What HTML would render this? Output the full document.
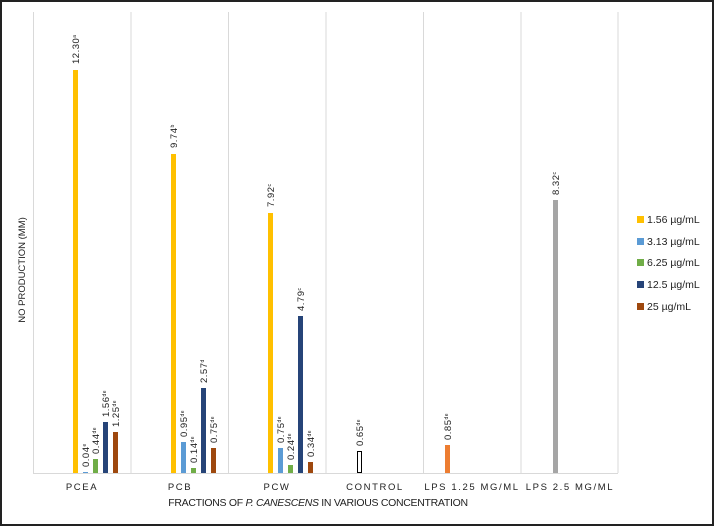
<!DOCTYPE html>
<html><head><meta charset="utf-8"><style>
html,body{margin:0;padding:0;background:#fff}
svg{display:block}
text{font-family:"Liberation Sans",sans-serif;fill:#222}
</style></head><body>
<svg width="715" height="526" viewBox="0 0 715 526" xmlns="http://www.w3.org/2000/svg">
<rect x="1" y="1" width="712" height="524" fill="#fff" stroke="#222" stroke-width="2"/>
<g stroke="#d9d9d9" stroke-width="1">
<line x1="33.5" y1="12" x2="33.5" y2="473"/>
<line x1="131" y1="12" x2="131" y2="473"/>
<line x1="228.5" y1="12" x2="228.5" y2="473"/>
<line x1="326" y1="12" x2="326" y2="473"/>
<line x1="423.5" y1="12" x2="423.5" y2="473"/>
<line x1="521" y1="12" x2="521" y2="473"/>
<line x1="618" y1="12" x2="618" y2="473"/>
<line x1="33" y1="473.5" x2="618" y2="473.5"/>
</g>
<g>
<rect x="73" y="70" width="5" height="403" fill="#ffc000"/>
<rect x="83" y="472" width="5" height="1" fill="#5b9bd5"/>
<rect x="93" y="459" width="5" height="14" fill="#70ad47"/>
<rect x="103" y="422" width="5" height="51" fill="#264478"/>
<rect x="113" y="432" width="5" height="41" fill="#9e480e"/>
<rect x="171" y="154" width="5" height="319" fill="#ffc000"/>
<rect x="181" y="442" width="5" height="31" fill="#5b9bd5"/>
<rect x="191" y="468" width="5" height="5" fill="#70ad47"/>
<rect x="201" y="388" width="5" height="85" fill="#264478"/>
<rect x="211" y="448" width="5" height="25" fill="#9e480e"/>
<rect x="268" y="213" width="5" height="260" fill="#ffc000"/>
<rect x="278" y="448" width="5" height="25" fill="#5b9bd5"/>
<rect x="288" y="465" width="5" height="8" fill="#70ad47"/>
<rect x="298" y="316" width="5" height="157" fill="#264478"/>
<rect x="308" y="462" width="5" height="11" fill="#9e480e"/>
<rect x="357.5" y="451.5" width="4" height="21" fill="#fff" stroke="#000" stroke-width="1"/>
<rect x="445" y="445" width="5" height="28" fill="#ed7d31"/>
<rect x="553" y="200" width="5" height="273" fill="#a5a5a5"/>
</g>
<g font-size="9.5" letter-spacing="0.5">
<text transform="translate(79,64) rotate(-90)">12.30<tspan font-size="5" dy="-3">a</tspan></text>
<text transform="translate(89,467) rotate(-90)">0.04<tspan font-size="5" dy="-3">e</tspan></text>
<text transform="translate(99,454) rotate(-90)">0.44<tspan font-size="5" dy="-3">de</tspan></text>
<text transform="translate(109,417) rotate(-90)">1.56<tspan font-size="5" dy="-3">de</tspan></text>
<text transform="translate(119,427) rotate(-90)">1.25<tspan font-size="5" dy="-3">de</tspan></text>
<text transform="translate(177,148) rotate(-90)">9.74<tspan font-size="5" dy="-3">b</tspan></text>
<text transform="translate(187,437) rotate(-90)">0.95<tspan font-size="5" dy="-3">de</tspan></text>
<text transform="translate(197,463) rotate(-90)">0.14<tspan font-size="5" dy="-3">de</tspan></text>
<text transform="translate(207,383) rotate(-90)">2.57<tspan font-size="5" dy="-3">d</tspan></text>
<text transform="translate(217,443) rotate(-90)">0.75<tspan font-size="5" dy="-3">de</tspan></text>
<text transform="translate(274,207) rotate(-90)">7.92<tspan font-size="5" dy="-3">c</tspan></text>
<text transform="translate(284,443) rotate(-90)">0.75<tspan font-size="5" dy="-3">de</tspan></text>
<text transform="translate(294,460) rotate(-90)">0.24<tspan font-size="5" dy="-3">de</tspan></text>
<text transform="translate(304,311) rotate(-90)">4.79<tspan font-size="5" dy="-3">c</tspan></text>
<text transform="translate(314,457) rotate(-90)">0.34<tspan font-size="5" dy="-3">de</tspan></text>
<text transform="translate(363,446) rotate(-90)">0.65<tspan font-size="5" dy="-3">de</tspan></text>
<text transform="translate(451,440) rotate(-90)">0.85<tspan font-size="5" dy="-3">de</tspan></text>
<text transform="translate(559,195) rotate(-90)">8.32<tspan font-size="5" dy="-3">c</tspan></text>
</g>
<g font-size="9.5" letter-spacing="1.6" text-anchor="middle">
<text x="82" y="490">PCEA</text>
<text x="180" y="490">PCB</text>
<text x="277" y="490">PCW</text>
<text x="375" y="490">CONTROL</text>
<text x="472" y="490">LPS 1.25 MG/ML</text>
<text x="570" y="490">LPS 2.5 MG/ML</text>
</g>
<text x="318" y="506" font-size="10.5" text-anchor="middle" letter-spacing="-0.3">FRACTIONS OF <tspan font-style="italic">P. CANESCENS</tspan> IN VARIOUS CONCENTRATION</text>
<text transform="translate(25,270) rotate(-90)" font-size="9.5" text-anchor="middle">NO PRODUCTION (MM)</text>
<g font-size="10.5">
<rect x="637" y="216" width="7" height="7" fill="#ffc000"/><text x="647" y="223">1.56 µg/mL</text>
<rect x="637" y="238" width="7" height="7" fill="#5b9bd5"/><text x="647" y="245">3.13 µg/mL</text>
<rect x="637" y="259" width="7" height="7" fill="#70ad47"/><text x="647" y="266">6.25 µg/mL</text>
<rect x="637" y="281" width="7" height="7" fill="#264478"/><text x="647" y="288">12.5 µg/mL</text>
<rect x="637" y="303" width="7" height="7" fill="#9e480e"/><text x="647" y="310">25 µg/mL</text>
</g>
</svg>
</body></html>
